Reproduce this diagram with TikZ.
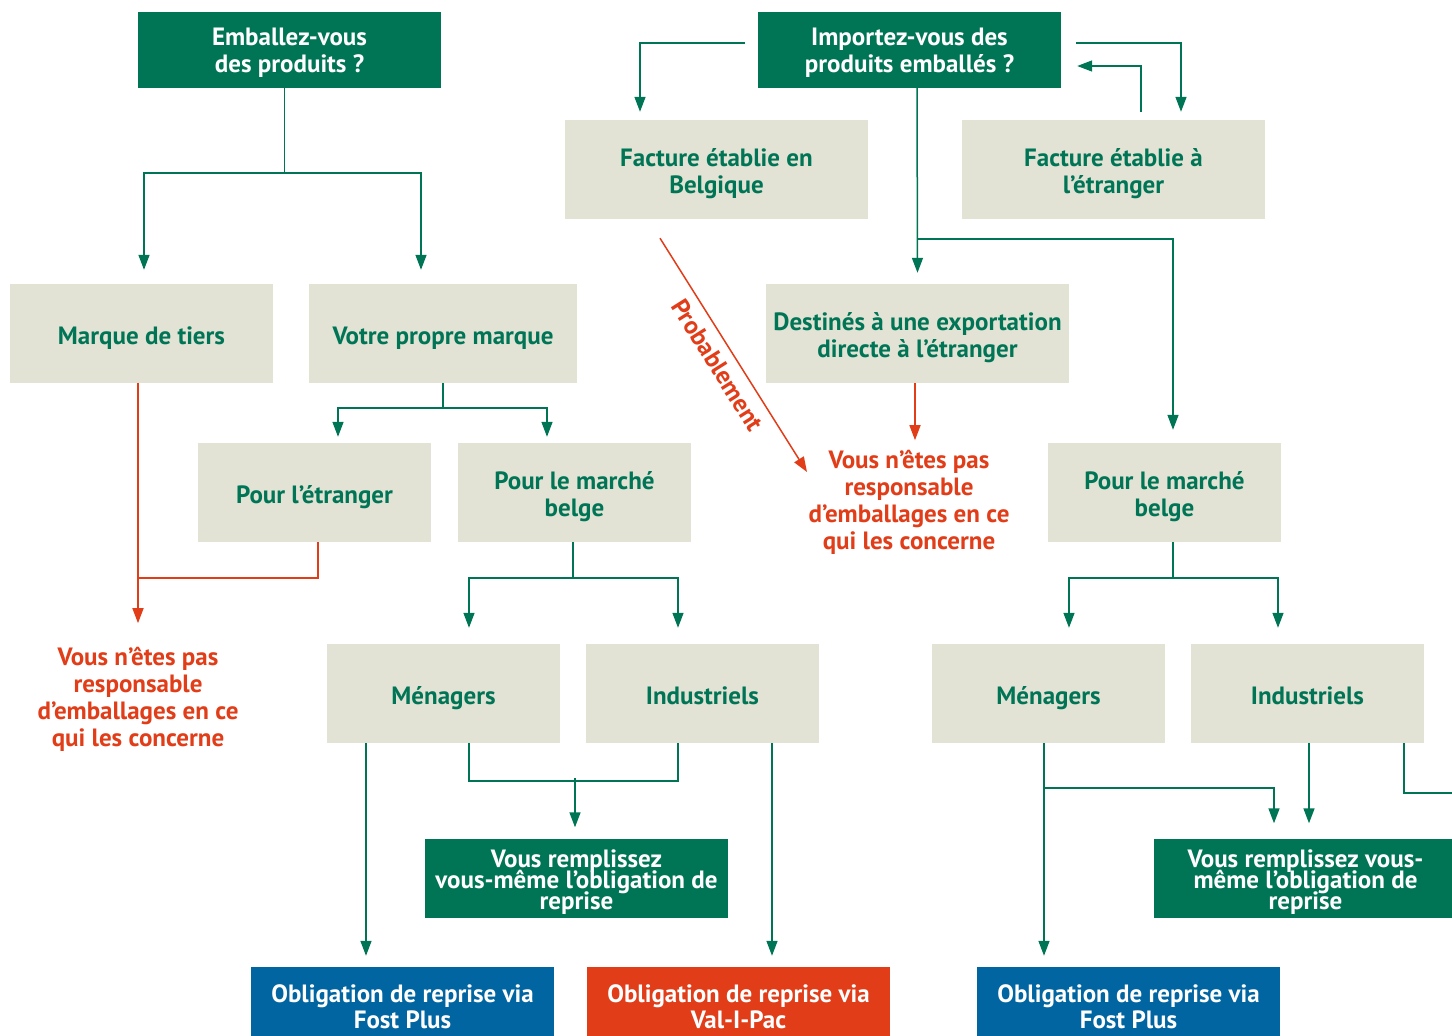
\documentclass[tikz,border=0pt]{standalone}
\usepackage{fontspec}
\setmainfont{PT Sans}
\usetikzlibrary{arrows.meta,calc}
\definecolor{vertfonce}{RGB}{0,117,86}
\definecolor{beige}{RGB}{226,226,213}
\definecolor{rouge}{RGB}{224,61,24}
\definecolor{bleu}{RGB}{0,101,161}
\newcommand\interserre{\lineskiplimit -20pt\relax}

\begin{document}
\begin{tikzpicture}[x=1pt,y=-1pt,
  question/.style={fill=vertfonce,text=white,minimum width=303pt,minimum height=76pt,inner sep=0pt,text height=52pt,text depth=8pt,align=center,font=\bfseries\fontsize{25}{27}\selectfont},
  choix/.style={fill=beige,text=vertfonce,minimum width=233pt,minimum height=99pt,inner sep=0pt,text height=29pt,text depth=8pt,align=center,font=\bfseries\fontsize{25}{27}\selectfont},
  deuxlignes/.style={text height=56pt},
  remplir/.style={question,text height=71pt,font=\bfseries\fontsize{25}{21}\selectfont\interserre},
  reprise/.style={question,fill=#1,text height=55pt,font=\bfseries\fontsize{25}{26}\selectfont},
  nonresp/.style={text=rouge,inner sep=0pt,text height=110pt,text depth=8pt,align=center,font=\bfseries\fontsize{25}{27}\selectfont},
  lien/.style={draw=vertfonce,line width=1.5pt},
  fleche/.style={lien,-{Triangle[length=15pt,width=11pt]}},
  lienrouge/.style={draw=rouge,line width=1.5pt},
  flecherouge/.style={lienrouge,-{Triangle[length=15pt,width=11pt]}}]
\clip (0,0) rectangle (1452,1036);

%Shape: Rectangle (questions)
\node[question] (emb) at (289.5,50) {Emballez-vous\\des produits ?};
\node[question] (imp) at (909.5,50) {Importez-vous des\\produits emballés ?};
%Shape: Rectangle (factures)
\node[choix,deuxlignes,minimum width=303pt] (fact1) at (716.5,169.5) {Facture établie en\\Belgique};
\node[choix,deuxlignes,minimum width=303pt] (fact2) at (1113.5,169.5) {Facture établie à\\l’étranger};
%Shape: Rectangle (marques)
\node[choix,minimum width=263pt] (tiers) at (141.5,333.5) {Marque de tiers};
\node[choix,minimum width=268pt] (propre) at (443,333.5) {Votre propre marque};
\node[choix,deuxlignes,minimum width=303pt] (dest) at (917.5,333.5) {Destinés à une exportation\\directe à l’étranger};
%Shape: Rectangle (marchés)
\node[choix] (etr) at (314.5,492.5) {Pour l’étranger};
\node[choix,deuxlignes] (belge1) at (574.5,492.5) {Pour le marché\\belge};
\node[choix,deuxlignes] (belge2) at (1164.5,492.5) {Pour le marché\\belge};
%Text Node
\node[nonresp] (nr1) at (138,695) {Vous n’êtes pas\\responsable\\d’emballages en ce\\qui les concerne};
\node[nonresp] (nr2) at (909,498) {Vous n’êtes pas\\responsable\\d’emballages en ce\\qui les concerne};
%Shape: Rectangle (emballages)
\node[choix] (men1) at (443.5,693.5) {Ménagers};
\node[choix] (ind1) at (702.5,693.5) {Industriels};
\node[choix] (men2) at (1048.5,693.5) {Ménagers};
\node[choix] (ind2) at (1307.5,693.5) {Industriels};
%Shape: Rectangle (obligations)
\node[remplir] (remp1) at (576.5,878) {Vous remplissez\\vous-même l’obligation de\\reprise};
\node[remplir] (remp2) at (1305.5,878) {Vous remplissez vous-\\même l’obligation de\\reprise};
\node[reprise=bleu] (fost1) at (402.5,1005) {Obligation de reprise via\\Fost Plus};
\node[reprise=rouge] (vip) at (738.5,1005) {Obligation de reprise via\\Val-I-Pac};
\node[reprise=bleu] (fost2) at (1128.5,1005) {Obligation de reprise via\\Fost Plus};

%Straight Lines (emballez)
\coordinate (f1) at ($(emb.south)+(-5,85)$);
\draw[lien] ($(emb.south)+(-5,0)$) -- (f1);
\draw[fleche] (f1) -| ($(tiers.north)+(2.5,-14)$);
\draw[fleche] (f1) -| ($(propre.north)+(-22,-14)$);
\coordinate (f2) at ($(propre.south)+(0,25)$);
\draw[lien] (propre.south) -- (f2);
\draw[fleche] (f2) -| ($(etr.north)+(23.5,-6)$);
\draw[fleche] (f2) -| ($(belge1.north)+(-27.5,-6)$);
\draw[flecherouge] ($(tiers.south)+(-3.5,0)$) -- ($(tiers.south)+(-3.5,240)$);
\draw[lienrouge] ($(etr.south)+(3.5,0)$) |- ($(tiers.south)+(-3.5,195)$);
\coordinate (f3) at ($(belge1.south)+(-1.5,36)$);
\draw[lien] ($(belge1.south)+(-1.5,0)$) -- (f3);
\draw[fleche] (f3) -| ($(men1.north)+(25.5,-16)$);
\draw[fleche] (f3) -| ($(ind1.north)+(-24.5,-16)$);
\draw[fleche] ($(men1.south)+(-77.5,0)$) -- ($(fost1.north)+(-36.5,-11)$);
\draw[lien] ($(men1.south)+(25.5,0)$) |- ($(ind1.south)+(-24.5,38)$) -- ($(ind1.south)+(-24.5,0)$);
\draw[fleche] ($(remp1.north)+(-1.5,-60)$) -- ($(remp1.north)+(-1.5,-11)$);
\draw[fleche] ($(ind1.south)+(69.5,0)$) -- ($(vip.north)+(33.5,-11)$);

%Straight Lines (importez)
\draw[fleche] ($(imp.west)+(-13,-7)$) -| ($(fact1.north)+(-76.5,-8)$);
\draw[fleche] ($(imp.east)+(15,-7)$) -| ($(fact2.north)+(67.5,-8)$);
\draw[fleche] ($(fact2.north)+(27.5,-8)$) |- ($(imp.east)+(16,16)$);
\coordinate (f4) at ($(imp.south)+(7.5,151)$);
\draw[fleche] ($(imp.south)+(7.5,0)$) -- ($(dest.north)+(0,-11)$);
\draw[fleche] (f4) -| ($(belge2.north)+(8.5,-13)$);
\draw[flecherouge] ($(dest.south)+(-2.5,0)$) -- ($(dest.south)+(-2.5,57)$);
\draw[flecherouge] ($(fact1.south)+(-56.5,19)$) -- node[sloped,below=9pt,text=rouge,inner sep=0pt,font=\bfseries\fontsize{25}{27}\selectfont] (prob) {Probablement} ($(nr2)+(-102,-26)$);
\coordinate (f5) at ($(belge2.south)+(8.5,36)$);
\draw[lien] ($(belge2.south)+(8.5,0)$) -- (f5);
\draw[fleche] (f5) -| ($(men2.north)+(20.5,-16)$);
\draw[fleche] (f5) -| ($(ind2.north)+(-29.5,-16)$);
\draw[fleche] ($(men2.south)+(-4.5,0)$) -- ($(fost2.north)+(-84.5,-11)$);
\draw[fleche] ($(men2.south)+(-4.5,45)$) -| ($(remp2.north)+(-31.5,-15)$);
\draw[fleche] ($(ind2.south)+(1.5,0)$) -- ($(remp2.north)+(3.5,-15)$);
\draw[lien] ($(ind2.south)+(96.5,0)$) |- ($(ind2.south)+(160,50)$);

\end{tikzpicture}
\end{document}
